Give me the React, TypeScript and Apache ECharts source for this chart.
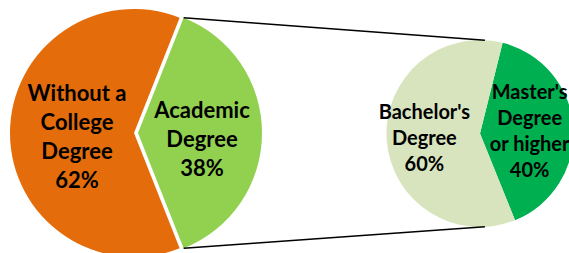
import React, { useEffect, useRef } from "react";
import * as echarts from "echarts";

const mainNames = ["Academic\nDegree", "Without a\nCollege\nDegree"];
const mainValues = [38, 62];
const subNames = ["Master's\nDegree\nor higher", "Bachelor's\nDegree"];
const subValues = [40, 60];

const mainColors = ["#92D050", "#E46C0A"];
const subColors = ["#00B050", "#D7E4BD"];

export default function App() {
  const ref = useRef<HTMLDivElement>(null);
  useEffect(() => {
    if (!ref.current) return;
    const chart = echarts.init(ref.current, null, { renderer: "svg" });
    const mainC = [134, 133];
    const mainR = 124;
    const offset = 4;
    const subC = [480, 133.5];
    const subR = 93.5;
    const total = mainValues.reduce((a, b) => a + b, 0);
    const half = (mainValues[0] / total) * 180; // half-angle of exploded slice
    const subStart = 76;
    const rad = (d: number) => (d * Math.PI) / 180;
    const gx = mainC[0] + offset + mainR * Math.cos(rad(half));
    const gyTop = mainC[1] - mainR * Math.sin(rad(half));
    const gyBot = mainC[1] + mainR * Math.sin(rad(half));
    const ex = subC[0] + subR * Math.cos(rad(87));
    const eyTop = subC[1] - subR * Math.sin(rad(87));
    const eyBot = subC[1] + subR * Math.sin(rad(87));

    const mainShift = [
      [-1, 5],
      [8, 3],
    ];
    const subShift = [
      [0, 0],
      [-6, 0],
    ];

    chart.setOption({
      animation: false,
      graphic: [
        {
          type: "line",
          shape: { x1: gx, y1: gyTop, x2: ex, y2: eyTop },
          style: { stroke: "#000", lineWidth: 1.5 },
          z: 10,
        },
        {
          type: "line",
          shape: { x1: gx, y1: gyBot, x2: ex, y2: eyBot },
          style: { stroke: "#000", lineWidth: 1.5 },
          z: 10,
        },
      ],
      series: [
        {
          type: "pie",
          center: mainC,
          radius: mainR,
          startAngle: half,
          clockwise: true,
          selectedMode: "single",
          selectedOffset: offset,
          avoidLabelOverlap: false,
          label: {
            show: true,
            position: "inside",
            formatter: "{b}\n{c}%",
            color: "#000",
            fontFamily: "Lato",
            fontWeight: "bold",
            fontSize: 22,
            lineHeight: 29,
          },
          labelLayout: (p: any) => ({ dx: mainShift[p.dataIndex][0], dy: mainShift[p.dataIndex][1] }),
          labelLine: { show: false },
          emphasis: { disabled: true },
          data: mainNames.map((n, i) => ({
            name: n,
            value: mainValues[i],
            selected: i === 0,
            itemStyle: { color: mainColors[i] },
          })),
        },
        {
          type: "pie",
          center: subC,
          radius: subR,
          startAngle: subStart,
          clockwise: true,
          avoidLabelOverlap: false,
          label: {
            show: true,
            position: "inside",
            formatter: "{b}\n{c}%",
            color: "#000",
            fontFamily: "Lato",
            fontWeight: "bold",
            fontSize: 20,
            lineHeight: 26,
          },
          labelLayout: (p: any) => ({ dx: subShift[p.dataIndex][0], dy: subShift[p.dataIndex][1] }),
          labelLine: { show: false },
          emphasis: { disabled: true },
          data: subNames.map((n, i) => ({
            name: n,
            value: subValues[i],
            itemStyle: { color: subColors[i] },
          })),
        },
      ],
    });
    return () => chart.dispose();
  }, []);
  return <div ref={ref} style={{ width: 569, height: 253, position: "absolute", left: 0, top: 0 }} />;
}
